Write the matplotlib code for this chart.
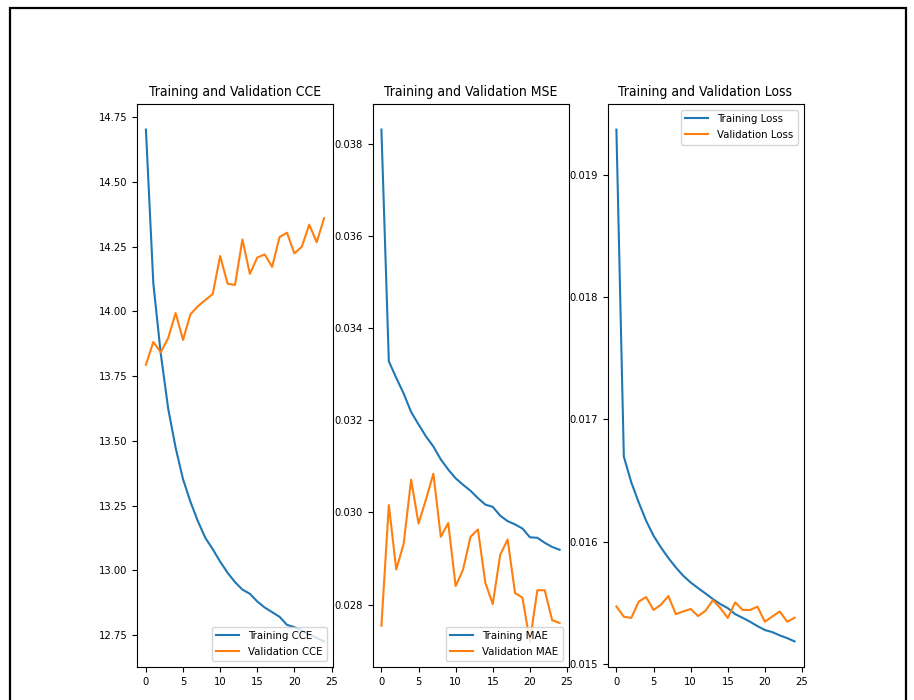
import matplotlib
matplotlib.use('Agg')
import matplotlib.pyplot as plt
from matplotlib.patches import Rectangle

epochs = list(range(25))
epoch_ticks = [0, 5, 10, 15, 20, 25]

train_cce = [14.702, 14.108, 13.837, 13.625, 13.474, 13.352, 13.265, 13.190, 13.126, 13.082,
             13.034, 12.991, 12.955, 12.926, 12.910, 12.880, 12.857, 12.839, 12.821, 12.790,
             12.781, 12.768, 12.753, 12.740, 12.726]
val_cce = [13.794, 13.882, 13.842, 13.897, 13.994, 13.890, 13.989, 14.020, 14.044, 14.067,
           14.214, 14.107, 14.102, 14.278, 14.145, 14.208, 14.220, 14.172, 14.287, 14.304,
           14.224, 14.250, 14.335, 14.267, 14.360]

train_mse = [0.03831, 0.03328, 0.03292, 0.03258, 0.03218, 0.03191, 0.03165, 0.03143, 0.03115, 0.03093,
             0.03074, 0.03060, 0.03047, 0.03031, 0.03017, 0.03012, 0.02993, 0.02981, 0.02974, 0.02965,
             0.02946, 0.02945, 0.02934, 0.02925, 0.02919]
val_mse = [0.02754, 0.03016, 0.02876, 0.02932, 0.03071, 0.02976, 0.03028, 0.03084, 0.02947, 0.02977,
           0.02840, 0.02876, 0.02947, 0.02963, 0.02847, 0.02801, 0.02908, 0.02941, 0.02825, 0.02815,
           0.02720, 0.02831, 0.02831, 0.02766, 0.02760]

train_loss = [0.01937, 0.016696, 0.016486, 0.016322, 0.016172, 0.016049, 0.015953, 0.015867, 0.015790, 0.015722,
              0.015667, 0.015621, 0.015577, 0.015531, 0.015490, 0.015457, 0.015408, 0.015378, 0.015346, 0.015310,
              0.015278, 0.015261, 0.015234, 0.015212, 0.015185]
val_loss = [0.015471, 0.015387, 0.015377, 0.015510, 0.015548, 0.015442, 0.015485, 0.015556, 0.015408, 0.015430,
            0.015450, 0.015392, 0.015436, 0.015523, 0.015457, 0.015377, 0.015504, 0.015442, 0.015442, 0.015469,
            0.015346, 0.015389, 0.015430, 0.015346, 0.015378]

# the reference looks horizontally squeezed, so use the condensed face
plt.rcParams['font.family'] = ['DejaVu Sans']
plt.rcParams['font.stretch'] = 'condensed'
plt.rcParams['xtick.labelsize'] = 8
plt.rcParams['ytick.labelsize'] = 8
plt.rcParams['legend.fontsize'] = 8.2
plt.rcParams['axes.titlesize'] = 10

W, H = 914, 700
fig = plt.figure(figsize=(W / 100, H / 100), dpi=100)

# black frame around the figure (bottom edge runs off the image)
fig.patches.append(Rectangle((10 / W, -0.1), 896 / W, (H - 8) / H + 0.1, transform=fig.transFigure,
                             fill=False, edgecolor='black', linewidth=1.6))

bottom = (H - 667) / H
height = (667 - 104) / H
width = 196 / W
lefts = [137, 372.5, 607.5]

panels = [
    (train_cce, val_cce, 'Training CCE', 'Validation CCE', 'lower right', 'Training and Validation CCE'),
    (train_mse, val_mse, 'Training MAE', 'Validation MAE', 'lower right', 'Training and Validation MSE'),
    (train_loss, val_loss, 'Training Loss', 'Validation Loss', 'upper right', 'Training and Validation Loss'),
]

for left, (tr, va, ltr, lva, loc, title) in zip(lefts, panels):
    ax = fig.add_axes([left / W, bottom, width, height])
    ax.plot(epochs, tr, label=ltr)
    ax.plot(epochs, va, label=lva)
    ax.set_xticks(epoch_ticks)
    ax.legend(loc=loc)
    ax.set_title(title)

fig.savefig('out.png', dpi=100)
